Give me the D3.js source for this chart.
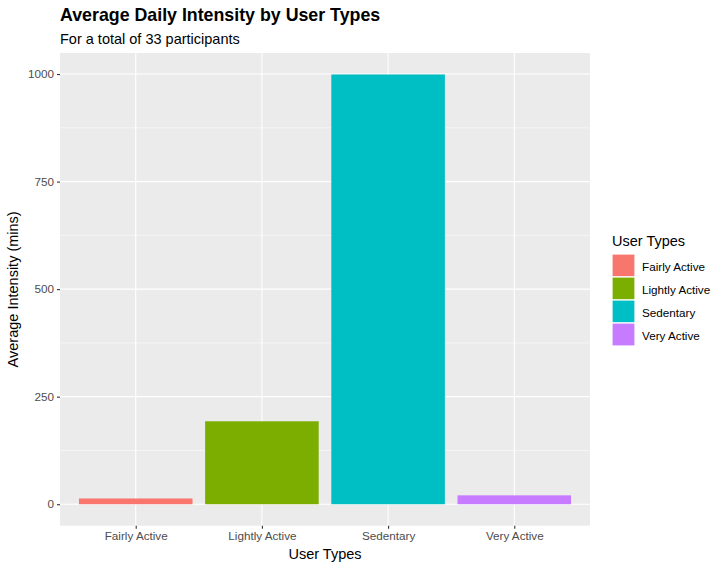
<!DOCTYPE html>
<html>
<head>
<meta charset="utf-8">
<script src="https://cdn.jsdelivr.net/npm/d3@7"></script>
<style>
  body { margin: 0; background: #fff; }
  text { font-family: "Liberation Sans", Arial, sans-serif; }
</style>
</head>
<body>
<svg width="725" height="570"></svg>
<script>
// data
var userTypes = ["Fairly Active", "Lightly Active", "Sedentary", "Very Active"];
var avgMinutes = [13.3, 192.8, 999, 20.6];
var fillColors = ["#F8766D", "#7CAE00", "#00BFC4", "#C77CFF"];
var yTicks = [0, 250, 500, 750, 1000];

var svg = d3.select("svg");
var pLeft = 60, pRight = 590, pTop = 53, pBottom = 525.7;

var maxV = d3.max(avgMinutes);
var y = d3.scaleLinear()
  .domain([-0.05 * maxV, 1.05 * maxV])
  .range([pBottom, pTop]);

// ggplot discrete expansion: 0.6 units on each side
var x = d3.scaleLinear()
  .domain([0.4, userTypes.length + 0.6])
  .range([pLeft, pRight]);

// panel
svg.append("rect")
  .attr("x", pLeft).attr("y", pTop)
  .attr("width", pRight - pLeft).attr("height", pBottom - pTop)
  .attr("fill", "#EBEBEB");

// minor grid
var minorY = yTicks.slice(0, -1).map(function(d){ return d + 125; });
svg.selectAll(".minor").data(minorY).join("line")
  .attr("x1", pLeft).attr("x2", pRight)
  .attr("y1", function(d){ return y(d); })
  .attr("y2", function(d){ return y(d); })
  .attr("stroke", "#fff").attr("stroke-width", 0.55);

// major grid
svg.selectAll(".majY").data(yTicks).join("line")
  .attr("x1", pLeft).attr("x2", pRight)
  .attr("y1", function(d){ return y(d); })
  .attr("y2", function(d){ return y(d); })
  .attr("stroke", "#fff").attr("stroke-width", 1.1);

svg.selectAll(".majX").data(userTypes).join("line")
  .attr("x1", function(d, i){ return x(i + 1); })
  .attr("x2", function(d, i){ return x(i + 1); })
  .attr("y1", pTop).attr("y2", pBottom)
  .attr("stroke", "#fff").attr("stroke-width", 1.1);

// bars
var bw = x(1.45) - x(1);
svg.selectAll(".bar").data(avgMinutes).join("rect")
  .attr("x", function(d, i){ return x(i + 1) - bw; })
  .attr("width", bw * 2)
  .attr("y", function(d){ return y(d); })
  .attr("height", function(d){ return y(0) - y(d); })
  .attr("fill", function(d, i){ return fillColors[i]; });

// axes
var yAxis = svg.append("g")
  .attr("transform", "translate(" + pLeft + ",0)")
  .call(d3.axisLeft(y).tickValues(yTicks).tickSize(3).tickPadding(3)
    .tickFormat(d3.format("d")));
var xAxis = svg.append("g")
  .attr("transform", "translate(0," + pBottom + ")")
  .call(d3.axisBottom(x).tickValues([1, 2, 3, 4]).tickSize(3).tickPadding(3)
    .tickFormat(function(d){ return userTypes[d - 1]; }));

[yAxis, xAxis].forEach(function(g){
  g.select(".domain").remove();
  g.selectAll(".tick line").attr("stroke", "#333").attr("stroke-width", 1.1);
  g.selectAll(".tick text").attr("fill", "#4D4D4D")
    .style("font-size", "11.7px")
    .style("font-family", "Liberation Sans, Arial, sans-serif");
});

// titles
svg.append("text").attr("x", pLeft).attr("y", 21)
  .style("font-size", "17.8px").style("font-weight", "bold")
  .text("Average Daily Intensity by User Types");
svg.append("text").attr("x", pLeft).attr("y", 44)
  .style("font-size", "14.5px")
  .text("For a total of 33 participants");

svg.append("text")
  .attr("x", (pLeft + pRight) / 2).attr("y", 559)
  .attr("text-anchor", "middle").style("font-size", "14.5px")
  .text("User Types");
svg.append("text")
  .attr("transform", "translate(18," + ((pTop + pBottom) / 2) + ") rotate(-90)")
  .attr("text-anchor", "middle").style("font-size", "14.5px")
  .text("Average Intensity (mins)");

// legend
var lg = svg.append("g").attr("transform", "translate(612,0)");
lg.append("text").attr("x", 0).attr("y", 246)
  .style("font-size", "14.5px").text("User Types");
var items = lg.selectAll(".item").data(userTypes).join("g")
  .attr("transform", function(d, i){ return "translate(0," + (254 + i * 23) + ")"; });
items.append("rect")
  .attr("width", 23).attr("height", 23)
  .attr("fill", function(d, i){ return fillColors[i]; })
  .attr("stroke", "#fff").attr("stroke-width", 1.2);
items.append("text")
  .attr("x", 30).attr("y", 12.5).attr("dy", "0.35em")
  .style("font-size", "11.7px")
  .text(function(d){ return d; });
</script>
</body>
</html>
